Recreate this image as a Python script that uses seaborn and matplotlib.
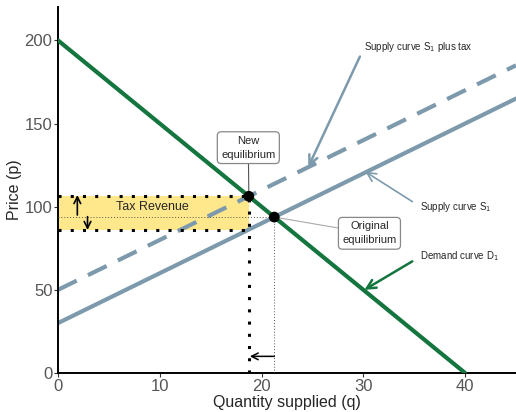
import numpy as np
import pandas as pd
import matplotlib
matplotlib.use("Agg")
import matplotlib.pyplot as plt
import seaborn as sns

# curve definitions
q = [0, 45]
demand_q = [0, 40]
demand_p = [200, 0]
supply_p = [30, 165]
supply_tax_p = [50, 185]

new_eq = (18.75, 106.25)
orig_eq = (21.25, 93.75)
tax_low = 86.25

GREEN = "#14753f"
BLUE = "#7d9aad"

sns.set_theme(style="ticks")
plt.rcParams["font.family"] = ["Liberation Sans", "DejaVu Sans"]

fig = plt.figure(figsize=(5.16, 4.12), dpi=100)
ax = fig.add_axes([0.1124, 0.0947, 0.8876, 0.888])

# tax revenue box
ax.fill_between([0, new_eq[0]], tax_low, new_eq[1], color="#ffe066", alpha=0.75, lw=0, zorder=1)
for yv in [tax_low, new_eq[1]]:
    ax.plot([0, new_eq[0]], [yv, yv], color="black", ls=(0, (1, 3)), lw=2.2, zorder=4)
ax.plot([new_eq[0], new_eq[0]], [0, new_eq[1]], color="black", ls=(0, (1, 3)), lw=2.2, zorder=4)
ax.plot([0, orig_eq[0]], [orig_eq[1], orig_eq[1]], color="#555555", ls=(0, (1, 2)), lw=0.7, zorder=4)
ax.plot([orig_eq[0], orig_eq[0]], [0, orig_eq[1]], color="#555555", ls=(0, (1, 2)), lw=0.7, zorder=4)

sns.lineplot(x=q, y=supply_tax_p, ax=ax, color=BLUE, lw=3, ls=(0, (5, 3)), zorder=2)
sns.lineplot(x=q, y=supply_p, ax=ax, color=BLUE, lw=3, zorder=2)
sns.lineplot(x=demand_q, y=demand_p, ax=ax, color=GREEN, lw=3, zorder=3)

sns.scatterplot(x=[new_eq[0], orig_eq[0]], y=[new_eq[1], orig_eq[1]], ax=ax,
                color="black", s=60, zorder=6, edgecolor="none")

ax.text(9.3, 100, "Tax Revenue", ha="center", va="center", fontsize=9, zorder=5)
small = dict(arrowstyle="->", color="black", lw=1.2, shrinkA=0, shrinkB=0)
ax.annotate("", xy=(1.9, 107), xytext=(1.9, 95), arrowprops=small, zorder=5)
ax.annotate("", xy=(2.9, 86), xytext=(2.9, 94), arrowprops=small, zorder=5)
ax.annotate("", xy=(18.85, 10), xytext=(21.25, 10),
            arrowprops=dict(arrowstyle="->", color="black", lw=1.1, shrinkA=0, shrinkB=0), zorder=5)

box = dict(boxstyle="round,pad=0.35", fc="white", ec="#888888", lw=0.9)
ax.annotate("New\nequilibrium", xy=new_eq, xytext=(18.7, 135.5), ha="center", va="center",
            fontsize=8, bbox=box, linespacing=1.5,
            arrowprops=dict(arrowstyle="-", color="#555555", lw=0.8, shrinkA=0, shrinkB=0), zorder=5)
ax.annotate("Original\nequilibrium", xy=orig_eq, xytext=(30.6, 84), ha="center", va="center",
            fontsize=8, bbox=box, linespacing=1.5,
            arrowprops=dict(arrowstyle="-", color="#aaaaaa", lw=0.8, shrinkA=0, shrinkB=0), zorder=5)

ax.annotate("Supply curve S$_1$ plus tax", xy=(24.6, 124), xytext=(30.1, 196), ha="left", va="center",
            fontsize=7,
            arrowprops=dict(arrowstyle="->", color=BLUE, lw=1.8, mutation_scale=16,
                            shrinkA=2, shrinkB=0, relpos=(0, 0.5)))
ax.annotate("Supply curve S$_1$", xy=(30.2, 121), xytext=(35.6, 100), ha="left", va="center",
            fontsize=7,
            arrowprops=dict(arrowstyle="->", color=BLUE, lw=1.2, mutation_scale=16,
                            shrinkA=4, shrinkB=0, relpos=(0, 0.5)))
ax.annotate("Demand curve D$_1$", xy=(30.1, 50), xytext=(35.6, 70), ha="left", va="center",
            fontsize=7,
            arrowprops=dict(arrowstyle="->", color=GREEN, lw=1.8, mutation_scale=16,
                            shrinkA=4, shrinkB=0, relpos=(0, 0.5)))

ax.set_xlim(0, 45)
ax.set_ylim(0, 220)
ax.set_xticks([0, 10, 20, 30, 40])
ax.set_yticks([0, 50, 100, 150, 200])
ax.tick_params(labelsize=12, labelcolor="#555555", color="#333333", length=3, width=0.8, pad=1)
ax.set_xlabel("Quantity supplied (q)", fontsize=11.5, labelpad=1)
ax.set_ylabel("Price (p)", fontsize=11.5, labelpad=2)
for s in ["top", "right"]:
    ax.spines[s].set_visible(False)
for s in ["left", "bottom"]:
    ax.spines[s].set_linewidth(1.4)
    ax.spines[s].set_color("black")

fig.savefig("out.png", dpi=100)
